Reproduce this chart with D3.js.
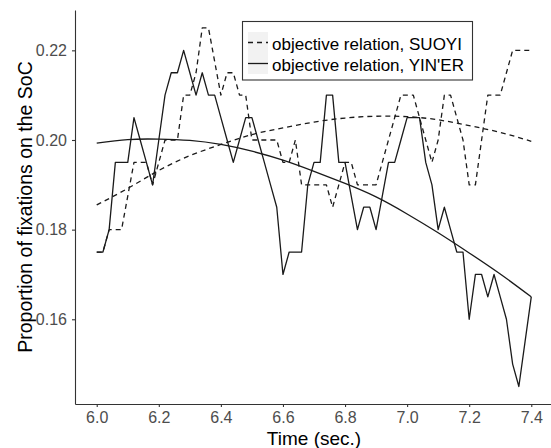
<!DOCTYPE html>
<html>
<head>
<meta charset="utf-8">
<script src="https://cdn.jsdelivr.net/npm/d3@7"></script>
<style>
    body { margin: 0; background: #fff; }
    svg { font-family: "Liberation Sans", Arial, sans-serif; }
</style>
</head>
<body>
<svg id="chart" width="551" height="448"></svg>
<script>
const width = 551,
    height = 448
const margin = {top: 10, right: -2, bottom: 44, left: 75}

// time points (sec.)
const times = [
    6.00, 6.02, 6.04, 6.06, 6.08, 6.10, 6.12, 6.14, 6.16, 6.18,
    6.20, 6.22, 6.24, 6.26, 6.28, 6.30, 6.32, 6.34, 6.36, 6.38,
    6.40, 6.42, 6.44, 6.46, 6.48, 6.50, 6.52, 6.54, 6.56, 6.58,
    6.60, 6.62, 6.64, 6.66, 6.68, 6.70, 6.72, 6.74, 6.76, 6.78,
    6.80, 6.82, 6.84, 6.86, 6.88, 6.90, 6.92, 6.94, 6.96, 6.98,
    7.00, 7.02, 7.04, 7.06, 7.08, 7.10, 7.12, 7.14, 7.16, 7.18,
    7.20, 7.22, 7.24, 7.26, 7.28, 7.30, 7.32, 7.34, 7.36, 7.38,
    7.40
]

// objective relation, SUOYI (dashed)
const suoyi = [
    0.175, 0.175, 0.18, 0.18, 0.18, 0.1875, 0.195, 0.195, 0.195, 0.19,
    0.195, 0.20, 0.20, 0.20, 0.21, 0.21, 0.215, 0.225, 0.225, 0.2175,
    0.21, 0.215, 0.215, 0.21, 0.21, 0.20, 0.20, 0.20, 0.20, 0.20,
    0.195, 0.195, 0.20, 0.19, 0.19, 0.19, 0.19, 0.19, 0.185, 0.19,
    0.195, 0.195, 0.19, 0.19, 0.19, 0.19, 0.195, 0.20, 0.205, 0.21,
    0.21, 0.21, 0.205, 0.20, 0.195, 0.20, 0.21, 0.21, 0.205, 0.20,
    0.19, 0.19, 0.20, 0.21, 0.21, 0.21, 0.215, 0.22, 0.22, 0.22,
    0.22
]

// objective relation, YIN'ER (solid)
const yiner = [
    0.175, 0.175, 0.18, 0.195, 0.195, 0.195, 0.205, 0.20, 0.195, 0.19,
    0.20, 0.21, 0.215, 0.215, 0.22, 0.215, 0.21, 0.215, 0.21, 0.21,
    0.205, 0.20, 0.195, 0.20, 0.205, 0.205, 0.20, 0.195, 0.19, 0.185,
    0.17, 0.175, 0.175, 0.175, 0.19, 0.195, 0.195, 0.21, 0.21, 0.195,
    0.195, 0.1875, 0.18, 0.185, 0.185, 0.18, 0.1875, 0.195, 0.195, 0.20,
    0.205, 0.205, 0.205, 0.195, 0.19, 0.18, 0.185, 0.18, 0.175, 0.175,
    0.16, 0.17, 0.17, 0.165, 0.17, 0.165, 0.16, 0.15, 0.145, 0.155,
    0.165
]

// smoothed trend lines
const fitTimes = [6.0, 6.1, 6.2, 6.3, 6.4, 6.5, 6.6, 6.7, 6.8, 6.9, 7.0, 7.1, 7.2, 7.3, 7.4]
const suoyiFit = [0.1855, 0.1892, 0.1932, 0.1965, 0.1990, 0.2012, 0.2027, 0.2040, 0.2049, 0.2053, 0.2052, 0.2045, 0.2032, 0.2017, 0.1997]
const yinerFit = [0.1993, 0.2001, 0.2002, 0.1999, 0.1990, 0.1975, 0.1955, 0.1930, 0.1903, 0.1873, 0.1835, 0.1793, 0.1748, 0.1701, 0.1650]

const xTicks = [6.0, 6.2, 6.4, 6.6, 6.8, 7.0, 7.2, 7.4]
const yTicks = [0.16, 0.18, 0.20, 0.22]
const legendLabels = ["objective relation, SUOYI", "objective relation, YIN'ER"]

const ink = "#1a1a1a"
const axisGrey = "#333333"
const labelGrey = "#4d4d4d"

const svg = d3.select('#chart')

const x = d3.scaleLinear()
    .domain([5.93, 7.47])
    .range([margin.left, width - margin.right])

const y = d3.scaleLinear()
    .domain([0.1411, 0.2290])
    .range([height - margin.bottom, margin.top])

// Axes
const xAxis = d3.axisBottom(x)
    .tickValues(xTicks)
    .tickFormat(d3.format('.1f'))
    .tickSize(3)
    .tickPadding(5)
    .tickSizeOuter(0)

const yAxis = d3.axisLeft(y)
    .tickValues(yTicks)
    .tickFormat(d3.format('.2f'))
    .tickSize(3)
    .tickPadding(5)
    .tickSizeOuter(0)

const gx = svg.append('g')
    .attr('transform', `translate(0, ${height - margin.bottom})`)
    .call(xAxis)

const gy = svg.append('g')
    .attr('transform', `translate(${margin.left}, 0)`)
    .call(yAxis)

;[gx, gy].forEach(g => {
    g.select('.domain').attr('stroke', axisGrey).attr('stroke-width', 1.1)
    g.selectAll('.tick line').attr('stroke', axisGrey).attr('stroke-width', 1.1)
    g.selectAll('.tick text')
        .attr('fill', labelGrey)
        .style('font-size', '16px')
        .style('font-family', '"Liberation Sans", Arial, sans-serif')
})

// Axis titles
svg.append('text')
    .attr('x', (margin.left + width - margin.right) / 2)
    .attr('y', 445)
    .attr('text-anchor', 'middle')
    .style('font-size', '19px')
    .attr('fill', '#000')
    .text('Time (sec.)')

svg.append('text')
    .attr('transform', `translate(32, ${(margin.top + height - margin.bottom) / 2}) rotate(-90)`)
    .attr('text-anchor', 'middle')
    .style('font-size', '19.5px')
    .attr('fill', '#000')
    .text('Proportion of fixations on the SoC')

// Lines
const line = d3.line()
    .x(d => x(d[0]))
    .y(d => y(d[1]))

const smooth = d3.line()
    .x(d => x(d[0]))
    .y(d => y(d[1]))
    .curve(d3.curveNatural)

const series = [
    {values: suoyi, fit: suoyiFit, dash: '5,4'},
    {values: yiner, fit: yinerFit, dash: null}
]

const plot = svg.append('g')
    .attr('fill', 'none')
    .attr('stroke', ink)
    .attr('stroke-width', 1.3)
    .attr('stroke-linejoin', 'round')

series.forEach(s => {
    plot.append('path')
        .attr('d', smooth(fitTimes.map((t, i) => [t, s.fit[i]])))
        .attr('stroke-dasharray', s.dash)

    plot.append('path')
        .attr('d', line(times.map((t, i) => [t, s.values[i]])))
        .attr('stroke-dasharray', s.dash)
})

// Legend
const legend = svg.append('g')

legend.append('rect')
    .attr('x', 242.5)
    .attr('y', 21.5)
    .attr('width', 230)
    .attr('height', 58.5)
    .attr('fill', '#fff')
    .attr('stroke', axisGrey)
    .attr('stroke-width', 1.1)

const rowY = [42.5, 63.5]

legendLabels.forEach((label, i) => {
    legend.append('rect')
        .attr('x', 248)
        .attr('y', rowY[i] - 10.5)
        .attr('width', 20)
        .attr('height', 21)
        .attr('fill', '#f2f2f2')

    legend.append('line')
        .attr('x1', 248)
        .attr('x2', 268)
        .attr('y1', rowY[i])
        .attr('y2', rowY[i])
        .attr('stroke', ink)
        .attr('stroke-width', 1.3)
        .attr('stroke-dasharray', series[i].dash)

    legend.append('text')
        .attr('x', 272)
        .attr('y', rowY[i] + 7.5)
        .style('font-size', '17px')
        .attr('fill', '#000')
        .text(label)
})
</script>
</body>
</html>
